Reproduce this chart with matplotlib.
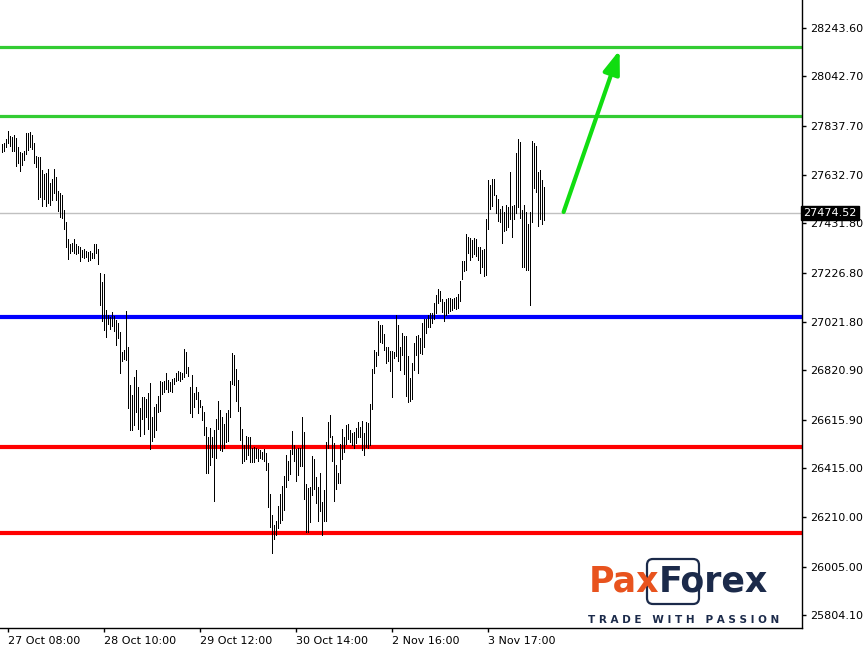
import numpy as np
import matplotlib
matplotlib.use('Agg')
import matplotlib.pyplot as plt
from matplotlib.patches import FancyBboxPatch
from matplotlib.transforms import IdentityTransform

# bar highs / lows, oldest first
highs = [
    27762, 27766, 27782, 27816, 27795, 27791, 27799, 27786, 27749, 27728,
    27724, 27732, 27807, 27807, 27811, 27799, 27766, 27712, 27708, 27708,
    27654, 27637, 27641, 27658, 27599, 27616, 27658, 27624, 27566, 27558,
    27550, 27487, 27437, 27367, 27346, 27350, 27367, 27346, 27338, 27334,
    27321, 27325, 27317, 27313, 27317, 27309, 27346, 27346, 27325, 27225,
    27188, 27221, 27072, 27051, 27043, 27063, 27047, 27030, 27018, 26980,
    26897, 26905, 27067, 26918, 26760, 26718, 26793, 26822, 26752, 26664,
    26710, 26710, 26702, 26727, 26768, 26627, 26668, 26681, 26714, 26777,
    26772, 26777, 26810, 26781, 26772, 26785, 26789, 26810, 26818, 26814,
    26810, 26910, 26897, 26835, 26752, 26802, 26727, 26752, 26731, 26698,
    26673, 26648, 26585, 26544, 26581, 26544, 26573, 26619, 26693, 26656,
    26627, 26598, 26644, 26656, 26777, 26893, 26885, 26826, 26781, 26668,
    26577, 26511, 26548, 26544, 26544, 26498, 26502, 26498, 26494, 26490,
    26481, 26494, 26477, 26436, 26307, 26220, 26178, 26195, 26257, 26307,
    26340, 26382, 26469, 26444, 26490, 26569, 26511, 26494, 26498, 26498,
    26627, 26565, 26349, 26332, 26336, 26465, 26452, 26378, 26336, 26394,
    26274, 26324, 26523, 26606, 26635, 26548, 26519, 26427, 26394, 26515,
    26577, 26544, 26594, 26598, 26573, 26560, 26565, 26581, 26606, 26585,
    26610, 26560, 26606, 26602, 26681, 26826, 26905, 26897, 27026, 27009,
    27009, 26972, 26918, 26918, 26901, 26901, 26897, 27051, 27009, 26918,
    26976, 26964, 26964, 26880, 26789, 26851, 26935, 26964, 26968, 26955,
    27018, 27034, 27034, 27051, 27059, 27059, 27101, 27134, 27159, 27151,
    27117, 27105, 27117, 27122, 27122, 27117, 27122, 27126, 27138, 27192,
    27275, 27275, 27388, 27375, 27371, 27363, 27371, 27367, 27334, 27334,
    27321, 27325, 27450, 27612, 27591, 27616, 27616, 27550, 27533, 27491,
    27504, 27479, 27508, 27500, 27645, 27504, 27508, 27724, 27782, 27770,
    27487, 27508, 27479, 27429, 27479, 27774, 27766, 27753, 27645, 27654,
    27612, 27583,
]
lows = [
    27728, 27732, 27749, 27766, 27753, 27732, 27732, 27670, 27683, 27649,
    27674, 27695, 27720, 27737, 27749, 27741, 27683, 27666, 27533, 27541,
    27504, 27533, 27504, 27516, 27508, 27529, 27558, 27529, 27483, 27458,
    27454, 27408, 27334, 27284, 27309, 27317, 27309, 27304, 27309, 27275,
    27292, 27288, 27292, 27275, 27279, 27288, 27288, 27309, 27263, 27092,
    27026, 26989, 26959, 27013, 26993, 27005, 26984, 26926, 26955, 26810,
    26860, 26868, 26864, 26664, 26573, 26573, 26594, 26648, 26577, 26548,
    26619, 26556, 26627, 26577, 26494, 26527, 26544, 26573, 26648, 26652,
    26723, 26731, 26743, 26731, 26735, 26731, 26764, 26777, 26781, 26777,
    26785, 26793, 26810, 26797, 26644, 26627, 26668, 26702, 26644, 26668,
    26615, 26552, 26394, 26394, 26427, 26461, 26278, 26457, 26577, 26490,
    26486, 26498, 26523, 26527, 26627, 26764, 26760, 26693, 26652, 26531,
    26436, 26444, 26452, 26469, 26440, 26440, 26440, 26457, 26444, 26457,
    26452, 26444, 26407, 26253, 26170, 26062, 26120, 26137, 26166, 26186,
    26199, 26240, 26336, 26365, 26390, 26473, 26444, 26361, 26386, 26423,
    26423, 26286, 26149, 26149, 26191, 26303, 26328, 26270, 26195, 26236,
    26137, 26195, 26195, 26498, 26544, 26444, 26278, 26328, 26353, 26353,
    26452, 26481, 26515, 26536, 26523, 26511, 26498, 26519, 26544, 26544,
    26490, 26469, 26502, 26498, 26511, 26660, 26810, 26839, 26885, 26939,
    26935, 26905, 26851, 26860, 26818, 26710, 26872, 26880, 26860, 26822,
    26885, 26806, 26714, 26689, 26693, 26702, 26822, 26885, 26810, 26893,
    26889, 26918, 26976, 27001, 27001, 27018, 27034, 27059, 27101, 27109,
    27063, 27026, 27051, 27059, 27067, 27072, 27080, 27076, 27080, 27109,
    27200, 27234, 27238, 27309, 27279, 27292, 27304, 27296, 27279, 27225,
    27250, 27213, 27217, 27408, 27491, 27504, 27550, 27475, 27442, 27437,
    27350, 27400, 27404, 27417, 27450, 27375, 27450, 27475, 27500, 27454,
    27250, 27250, 27238, 27238, 27092, 27437, 27579, 27562, 27421, 27450,
    27429, 27446,
]
last_price = 27474.52

resistance_levels = [28165, 27878]
pivot_level = 27041
support_levels = [26502, 26145]

price_ticks = [25804.10, 26005.00, 26210.00, 26415.00, 26615.90, 26820.90,
               27021.80, 27226.80, 27431.80, 27632.70, 27837.70, 28042.70,
               28243.60]
time_labels = ['27 Oct 08:00', '28 Oct 10:00', '29 Oct 12:00',
               '30 Oct 14:00', '2 Nov 16:00', '3 Nov 17:00']
time_label_bars = [3, 51, 99, 147, 195, 243]

# forecast arrow (bar index, price)
arrow_from = (281, 27479)
arrow_to = (309, 28152)

W, H = 868, 653
fig = plt.figure(figsize=(W / 100, H / 100), dpi=100)
ax = fig.add_axes([0, 25 / H, 802 / W, 628 / H])

x = np.arange(len(highs))
ax.vlines(x, lows, highs, color='black', lw=0.72, antialiased=False, zorder=3)

ax.axhline(last_price, color='#c0c0c0', lw=1, zorder=1)
for lvl in resistance_levels:
    ax.axhline(lvl, color='#33cc33', lw=2.3, zorder=2)
ax.axhline(pivot_level, color='#0000ff', lw=3, zorder=2)
for lvl in support_levels:
    ax.axhline(lvl, color='#ff0000', lw=3, zorder=2)

ax.annotate('', xy=arrow_to, xytext=arrow_from,
            arrowprops=dict(arrowstyle='-|>,head_length=1.4,head_width=0.5',
                            color='#11dd11', lw=3, shrinkA=0, shrinkB=0),
            zorder=4)

ax.set_xlim(-0.835, 400.2)
ax.set_ylim(25750, 28360)

for side in ['top', 'left']:
    ax.spines[side].set_visible(False)
ax.spines['right'].set_linewidth(1)
ax.spines['bottom'].set_linewidth(1)

ax.yaxis.tick_right()
ax.set_yticks(price_ticks)
ax.set_yticklabels([f'{v:.2f}' for v in price_ticks])
ax.tick_params(axis='y', direction='out', length=3, width=1, pad=3,
               labelsize=8, colors='black')

ax.set_xticks(time_label_bars)
ax.set_xticklabels(time_labels, ha='left')
ax.tick_params(axis='x', direction='out', length=3, width=1, pad=3,
               labelsize=8, colors='black')

ax.text(1.002, last_price, f'{last_price:.2f}', transform=ax.get_yaxis_transform(),
        ha='left', va='center', color='white', fontsize=8, zorder=5,
        bbox=dict(facecolor='black', edgecolor='black', pad=1.6))

# logo
ident = IdentityTransform()
box = FancyBboxPatch((647, H - 604), 52, 45, boxstyle='round,pad=0,rounding_size=6',
                     transform=ident, fill=False, edgecolor='#1b2a4a', lw=1.6,
                     figure=fig)
fig.patches.append(box)
fig.text(659 / W, 1 - 591 / H, 'Pax', color='#e8531e', fontsize=25,
         fontweight='bold', ha='right', va='baseline')
fig.text(659 / W, 1 - 591 / H, 'Forex', color='#1b2a4a', fontsize=25,
         fontweight='bold', ha='left', va='baseline')
fig.text(684 / W, 1 - 620 / H, 'T R A D E   W I T H   P A S S I O N',
         color='#1b2a4a', fontsize=7.5, fontweight='bold', ha='center', va='center')

fig.savefig('out.png', dpi=100)
